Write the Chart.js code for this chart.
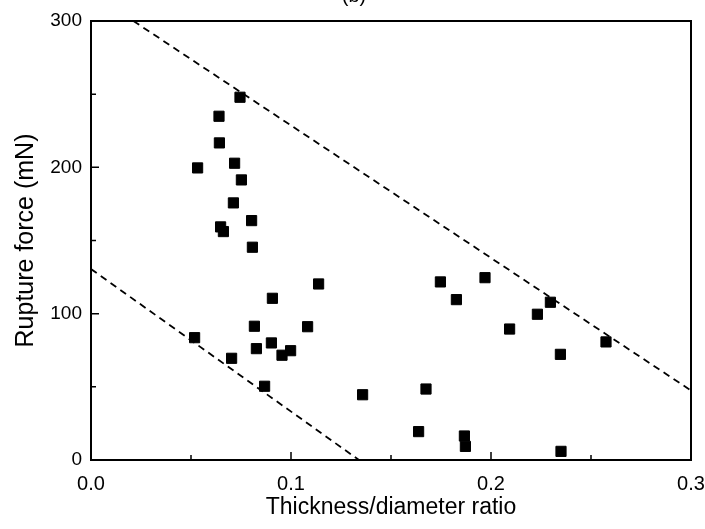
<!DOCTYPE html>
<html>
<head>
<meta charset="utf-8">
<script src="https://cdn.jsdelivr.net/npm/chart.js@4.4.1/dist/chart.umd.min.js"></script>
<style>
  html, body { margin: 0; padding: 0; background: #fff; }
  canvas { display: block; }
</style>
</head>
<body>
<canvas id="ruptureChart" width="705" height="529"></canvas>
<script>
// measured points (thickness/diameter ratio, rupture force in mN)
var ratioValues = [
    0.0745, 0.0640, 0.0642, 0.0533, 0.0718, 0.0752, 0.0712, 0.0803, 0.0648, 0.0662, 0.0807,
    0.0518, 0.0703, 0.0817, 0.0827, 0.0907, 0.0902, 0.0955, 0.0998, 0.0868, 0.1083, 0.1138,
    0.1358, 0.1747, 0.1827, 0.1970, 0.2093, 0.2232, 0.2297, 0.2347, 0.2575, 0.1675, 0.1638,
    0.1867, 0.1872, 0.2350
];
var forceValues = [
    247.9, 234.9, 216.7, 199.6, 202.8, 191.4, 175.7, 163.6, 159.3, 156.1, 145.4,
    83.6, 69.5, 91.4, 76.1, 110.5, 80.0, 71.6, 74.7, 50.4, 91.1, 120.3,
    44.6, 121.7, 109.6, 124.6, 89.5, 99.6, 107.8, 72.2, 80.7, 48.5, 19.4,
    16.4, 9.3, 5.9
];

// dashed boundary lines
var upperLineX = [0.0212, 0.3];
var upperLineY = [300, 47.5];
var lowerLineX = [0, 0.134];
var lowerLineY = [130.5, 0];

var xTicks = [0, 0.1, 0.2, 0.3];
var yTicks = [0, 100, 200, 300];

function toPoints(xs, ys) {
    return xs.map(function(x, i) { return { x: x, y: ys[i] }; });
}

// frame, inward ticks and the clipped panel label
var framePlugin = {
    id: 'frame',
    afterDraw: function(chart) {
        var ctx = chart.ctx;
        var a = chart.chartArea;
        var xs = chart.scales.x, ys = chart.scales.y;
        ctx.save();
        ctx.strokeStyle = '#000';
        ctx.lineWidth = 2;
        ctx.strokeRect(a.left, a.top, a.right - a.left, a.bottom - a.top);

        ctx.lineWidth = 1.5;
        ctx.beginPath();
        for (var i = 0; i < xTicks.length; i++) {
            var px = xs.getPixelForValue(xTicks[i]);
            ctx.moveTo(px, a.bottom); ctx.lineTo(px, a.bottom - 8);
            if (i < xTicks.length - 1) {
                var mx = xs.getPixelForValue((xTicks[i] + xTicks[i + 1]) / 2);
                ctx.moveTo(mx, a.bottom); ctx.lineTo(mx, a.bottom - 5);
            }
        }
        for (var j = 0; j < yTicks.length; j++) {
            var py = ys.getPixelForValue(yTicks[j]);
            ctx.moveTo(a.left, py); ctx.lineTo(a.left + 8, py);
            if (j < yTicks.length - 1) {
                var my = ys.getPixelForValue((yTicks[j] + yTicks[j + 1]) / 2);
                ctx.moveTo(a.left, my); ctx.lineTo(a.left + 5, my);
            }
        }
        ctx.stroke();

        ctx.fillStyle = '#000';
        ctx.font = '20px "Liberation Sans", Arial, sans-serif';
        ctx.textAlign = 'center';
        ctx.textBaseline = 'alphabetic';
        ctx.fillText('(b)', 354, 2);
        ctx.restore();
    }
};

var ctx = document.getElementById('ruptureChart').getContext('2d');
var chart = new Chart(ctx, {
    type: 'scatter',
    data: {
        datasets: [{
            data: toPoints(ratioValues, forceValues),
            pointStyle: 'rect',
            pointRadius: 7.2,
            pointHoverRadius: 7.2,
            backgroundColor: '#000',
            borderColor: '#000',
            borderWidth: 1
        }, {
            data: toPoints(upperLineX, upperLineY),
            showLine: true,
            borderColor: '#000',
            borderWidth: 1.8,
            borderDash: [7, 5],
            pointRadius: 0
        }, {
            data: toPoints(lowerLineX, lowerLineY),
            showLine: true,
            borderColor: '#000',
            borderWidth: 1.8,
            borderDash: [7, 5],
            pointRadius: 0
        }]
    },
    options: {
        responsive: false,
        animation: false,
        layout: { padding: { top: 21, right: 14, left: 0, bottom: 0 } },
        plugins: {
            legend: { display: false },
            tooltip: { enabled: false }
        },
        scales: {
            x: {
                type: 'linear',
                min: 0,
                max: 0.3,
                grid: { display: false, drawTicks: false },
                border: { display: false },
                afterFit: function(scale) {
                    scale.height = 69;
                    scale.paddingLeft = 0;
                    scale.paddingRight = 0;
                },
                afterBuildTicks: function(scale) {
                    scale.ticks = xTicks.map(function(v) { return { value: v }; });
                },
                ticks: {
                    padding: 12,
                    color: '#000',
                    maxRotation: 0,
                    font: { family: '"Liberation Sans", Arial, sans-serif', size: 20 },
                    callback: function(v) { return Number(v).toFixed(1); }
                },
                title: {
                    display: true,
                    text: 'Thickness/diameter ratio',
                    color: '#000',
                    font: { family: '"Liberation Sans", Arial, sans-serif', size: 23 },
                    padding: { top: 0, bottom: 8 }
                }
            },
            y: {
                type: 'linear',
                min: 0,
                max: 300,
                grid: { display: false, drawTicks: false },
                border: { display: false },
                afterFit: function(scale) {
                    scale.width = 91;
                    scale.paddingTop = 0;
                    scale.paddingBottom = 0;
                },
                afterBuildTicks: function(scale) {
                    scale.ticks = yTicks.map(function(v) { return { value: v }; });
                },
                ticks: {
                    padding: 9,
                    color: '#000',
                    font: { family: '"Liberation Sans", Arial, sans-serif', size: 19 }
                },
                title: {
                    display: true,
                    text: 'Rupture force (mN)',
                    color: '#000',
                    font: { family: '"Liberation Sans", Arial, sans-serif', size: 25 },
                    padding: { top: 11, bottom: 0 }
                }
            }
        }
    },
    plugins: [framePlugin]
});
</script>
</body>
</html>
